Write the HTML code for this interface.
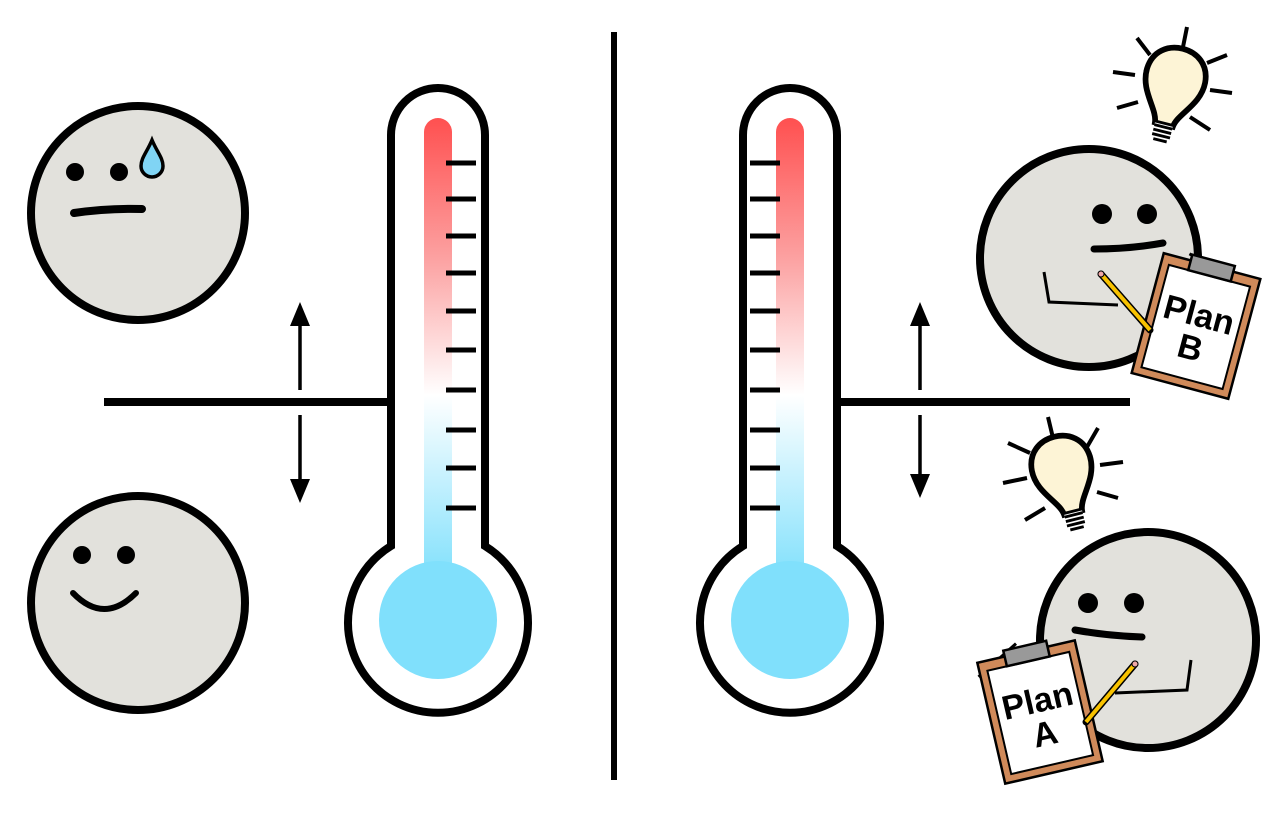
<!DOCTYPE html>
<html><head><meta charset="utf-8"><style>html,body{margin:0;padding:0;background:#fff}svg{display:block}</style></head>
<body>
<svg width="1287" height="816" viewBox="0 0 1287 816" xmlns="http://www.w3.org/2000/svg">
<defs>
<linearGradient id="g" x1="0" y1="118" x2="0" y2="580" gradientUnits="userSpaceOnUse">
<stop offset="0" stop-color="#ff5050"/><stop offset="0.3" stop-color="#fca0a0"/><stop offset="0.6" stop-color="#ffffff"/><stop offset="1" stop-color="#80e0fc"/>
</linearGradient>
<g id="thermo">
<path d="M-47,546 L-47,135 A47,47 0 0 1 47,135 L47,546 A90,90 0 1 1 -47,546 Z" fill="#fff" stroke="#000" stroke-width="8"/>
<path d="M-14,580 L-14,132 A14,14 0 0 1 14,132 L14,580 Z" fill="url(#g)"/>
<circle cx="0" cy="620" r="59" fill="#80e0fc"/>
</g>
<path id="bulb" d="M-8,40 C-9,28 -27,16 -26,-4 C-25,-20 -13,-28 0,-28 C13,-28 25,-20 26,-4 C27,16 9,28 8,40 Z" fill="#fdf4d6" stroke="#000" stroke-width="5"/>
<g id="base"><rect x="-8" y="40" width="16" height="12" fill="#fff" stroke="none"/><path d="M-8,42 H8 M-8,46 H8 M-8,50 H8 M-6,54 H6" stroke="#000" stroke-width="2.5"/></g>
</defs>

<line x1="614" y1="32" x2="614" y2="780" stroke="#000" stroke-width="6"/>

<line x1="104" y1="402" x2="392" y2="402" stroke="#000" stroke-width="8"/>
<g>
<use href="#thermo" x="438" y="0"/>
<path d="M446,163 H476 M446,199 H476 M446,236 H476 M446,273 H476 M446,311 H476 M446,350 H476 M446,390 H476 M446,430 H476 M446,468 H476 M446,508 H476" stroke="#000" stroke-width="5"/>
</g>
<g stroke="#000" stroke-width="3.5" fill="#000">
<line x1="300" y1="320" x2="300" y2="390"/><path d="M300,302 L290,326 L310,326 Z" stroke="none"/>
<line x1="300" y1="415" x2="300" y2="485"/><path d="M300,503 L290,479 L310,479 Z" stroke="none"/>
</g>
<g>
<circle cx="138" cy="213" r="107" fill="#e2e1dc" stroke="#000" stroke-width="8"/>
<circle cx="75" cy="172" r="9"/><circle cx="119" cy="172" r="9"/>
<path d="M74,213 Q108,208 142,209" stroke="#000" stroke-width="8" fill="none" stroke-linecap="round"/>
<path d="M152,140 C147,152 141,158 141,166 A11,11 0 0 0 163,166 C163,158 157,152 152,140 Z" fill="#80d4f4" stroke="#000" stroke-width="3.5"/>
</g>
<g>
<circle cx="138" cy="603" r="107" fill="#e2e1dc" stroke="#000" stroke-width="8"/>
<circle cx="82" cy="555" r="9"/><circle cx="126" cy="555" r="9"/>
<path d="M73,593 Q104,625 136,593" stroke="#000" stroke-width="6" fill="none" stroke-linecap="round"/>
</g>

<line x1="835" y1="402" x2="1130" y2="402" stroke="#000" stroke-width="8"/>
<g>
<use href="#thermo" x="790" y="0"/>
<path d="M750,163 H780 M750,199 H780 M750,236 H780 M750,273 H780 M750,311 H780 M750,350 H780 M750,390 H780 M750,430 H780 M750,468 H780 M750,508 H780" stroke="#000" stroke-width="5"/>
</g>
<g stroke="#000" stroke-width="3.5" fill="#000">
<line x1="920" y1="320" x2="920" y2="390"/><path d="M920,302 L910,326 L930,326 Z" stroke="none"/>
<line x1="920" y1="415" x2="920" y2="480"/><path d="M920,498 L910,474 L930,474 Z" stroke="none"/>
</g>

<g>
<g transform="translate(1175,80) rotate(14) scale(1.15)"><use href="#bulb"/><use href="#base"/></g>
<path d="M1137,38 L1150,55 M1187,27 L1183,47 M1207,63 L1227,55 M1113,72 L1135,75 M1210,90 L1232,93 M1117,108 L1138,102 M1190,117 L1210,130" stroke="#000" stroke-width="4"/>
</g>
<g>
<circle cx="1089" cy="258" r="109" fill="#e2e1dc" stroke="#000" stroke-width="8"/>
<circle cx="1102" cy="214" r="10"/><circle cx="1147" cy="214" r="10"/>
<path d="M1094,249 Q1130,249 1163,243" stroke="#000" stroke-width="7" fill="none" stroke-linecap="round"/>
<path d="M1044,272 L1049,302 L1118,305" stroke="#000" stroke-width="3" fill="none"/>
<g transform="translate(1196,326) rotate(15)">
<path d="M-25,-68 L38,-52" stroke="#000" stroke-width="3"/>
<rect x="-50" y="-62" width="100" height="124" fill="#d08a5a" stroke="#000" stroke-width="2.5"/>
<rect x="-42" y="-52" width="84" height="106" fill="#fff" stroke="#000" stroke-width="2"/>
<rect x="-22" y="-68" width="44" height="16" fill="#999" stroke="#000" stroke-width="2.5"/>
<text x="0" y="0" text-anchor="middle" font-family="Liberation Sans, sans-serif" font-weight="bold" font-size="34">Plan</text>
<text x="0" y="34" text-anchor="middle" font-family="Liberation Sans, sans-serif" font-weight="bold" font-size="34">B</text>
</g>
<g>
<line x1="1101" y1="274" x2="1150" y2="330" stroke="#000" stroke-width="7" stroke-linecap="round"/>
<line x1="1101" y1="274" x2="1150" y2="330" stroke="#f8c200" stroke-width="4"/>
<circle cx="1101" cy="274" r="3" fill="#f0a8a8" stroke="#000" stroke-width="1"/>
</g>
</g>

<g>
<g transform="translate(1062,468) rotate(-14) scale(1.15)"><use href="#bulb"/><use href="#base"/></g>
<path d="M1048,417 L1053,438 M1087,447 L1098,428 M1008,443 L1030,453 M1100,465 L1123,462 M1003,483 L1027,478 M1097,492 L1118,498 M1025,520 L1045,508" stroke="#000" stroke-width="4"/>
</g>
<g>
<circle cx="1148" cy="640" r="108" fill="#e2e1dc" stroke="#000" stroke-width="8"/>
<circle cx="1088" cy="603" r="10"/><circle cx="1134" cy="603" r="10"/>
<path d="M1075,630 Q1108,636 1142,637" stroke="#000" stroke-width="7" fill="none" stroke-linecap="round"/>
<path d="M1191,660 L1187,690 L1115,693" stroke="#000" stroke-width="3" fill="none"/>
<g transform="translate(1040,712) rotate(-13)">
<path d="M-52,-48 L-8,-72" stroke="#000" stroke-width="3"/>
<rect x="-50" y="-62" width="100" height="124" fill="#d08a5a" stroke="#000" stroke-width="2.5"/>
<rect x="-42" y="-52" width="84" height="106" fill="#fff" stroke="#000" stroke-width="2"/>
<rect x="-22" y="-68" width="44" height="16" fill="#999" stroke="#000" stroke-width="2.5"/>
<text x="0" y="0" text-anchor="middle" font-family="Liberation Sans, sans-serif" font-weight="bold" font-size="34">Plan</text>
<text x="0" y="34" text-anchor="middle" font-family="Liberation Sans, sans-serif" font-weight="bold" font-size="34">A</text>
</g>
<g>
<line x1="1135" y1="664" x2="1086" y2="722" stroke="#000" stroke-width="7" stroke-linecap="round"/>
<line x1="1135" y1="664" x2="1086" y2="722" stroke="#f8c200" stroke-width="4"/>
<circle cx="1135" cy="664" r="3" fill="#f0a8a8" stroke="#000" stroke-width="1"/>
</g>
</g>
</svg>
</body></html>
